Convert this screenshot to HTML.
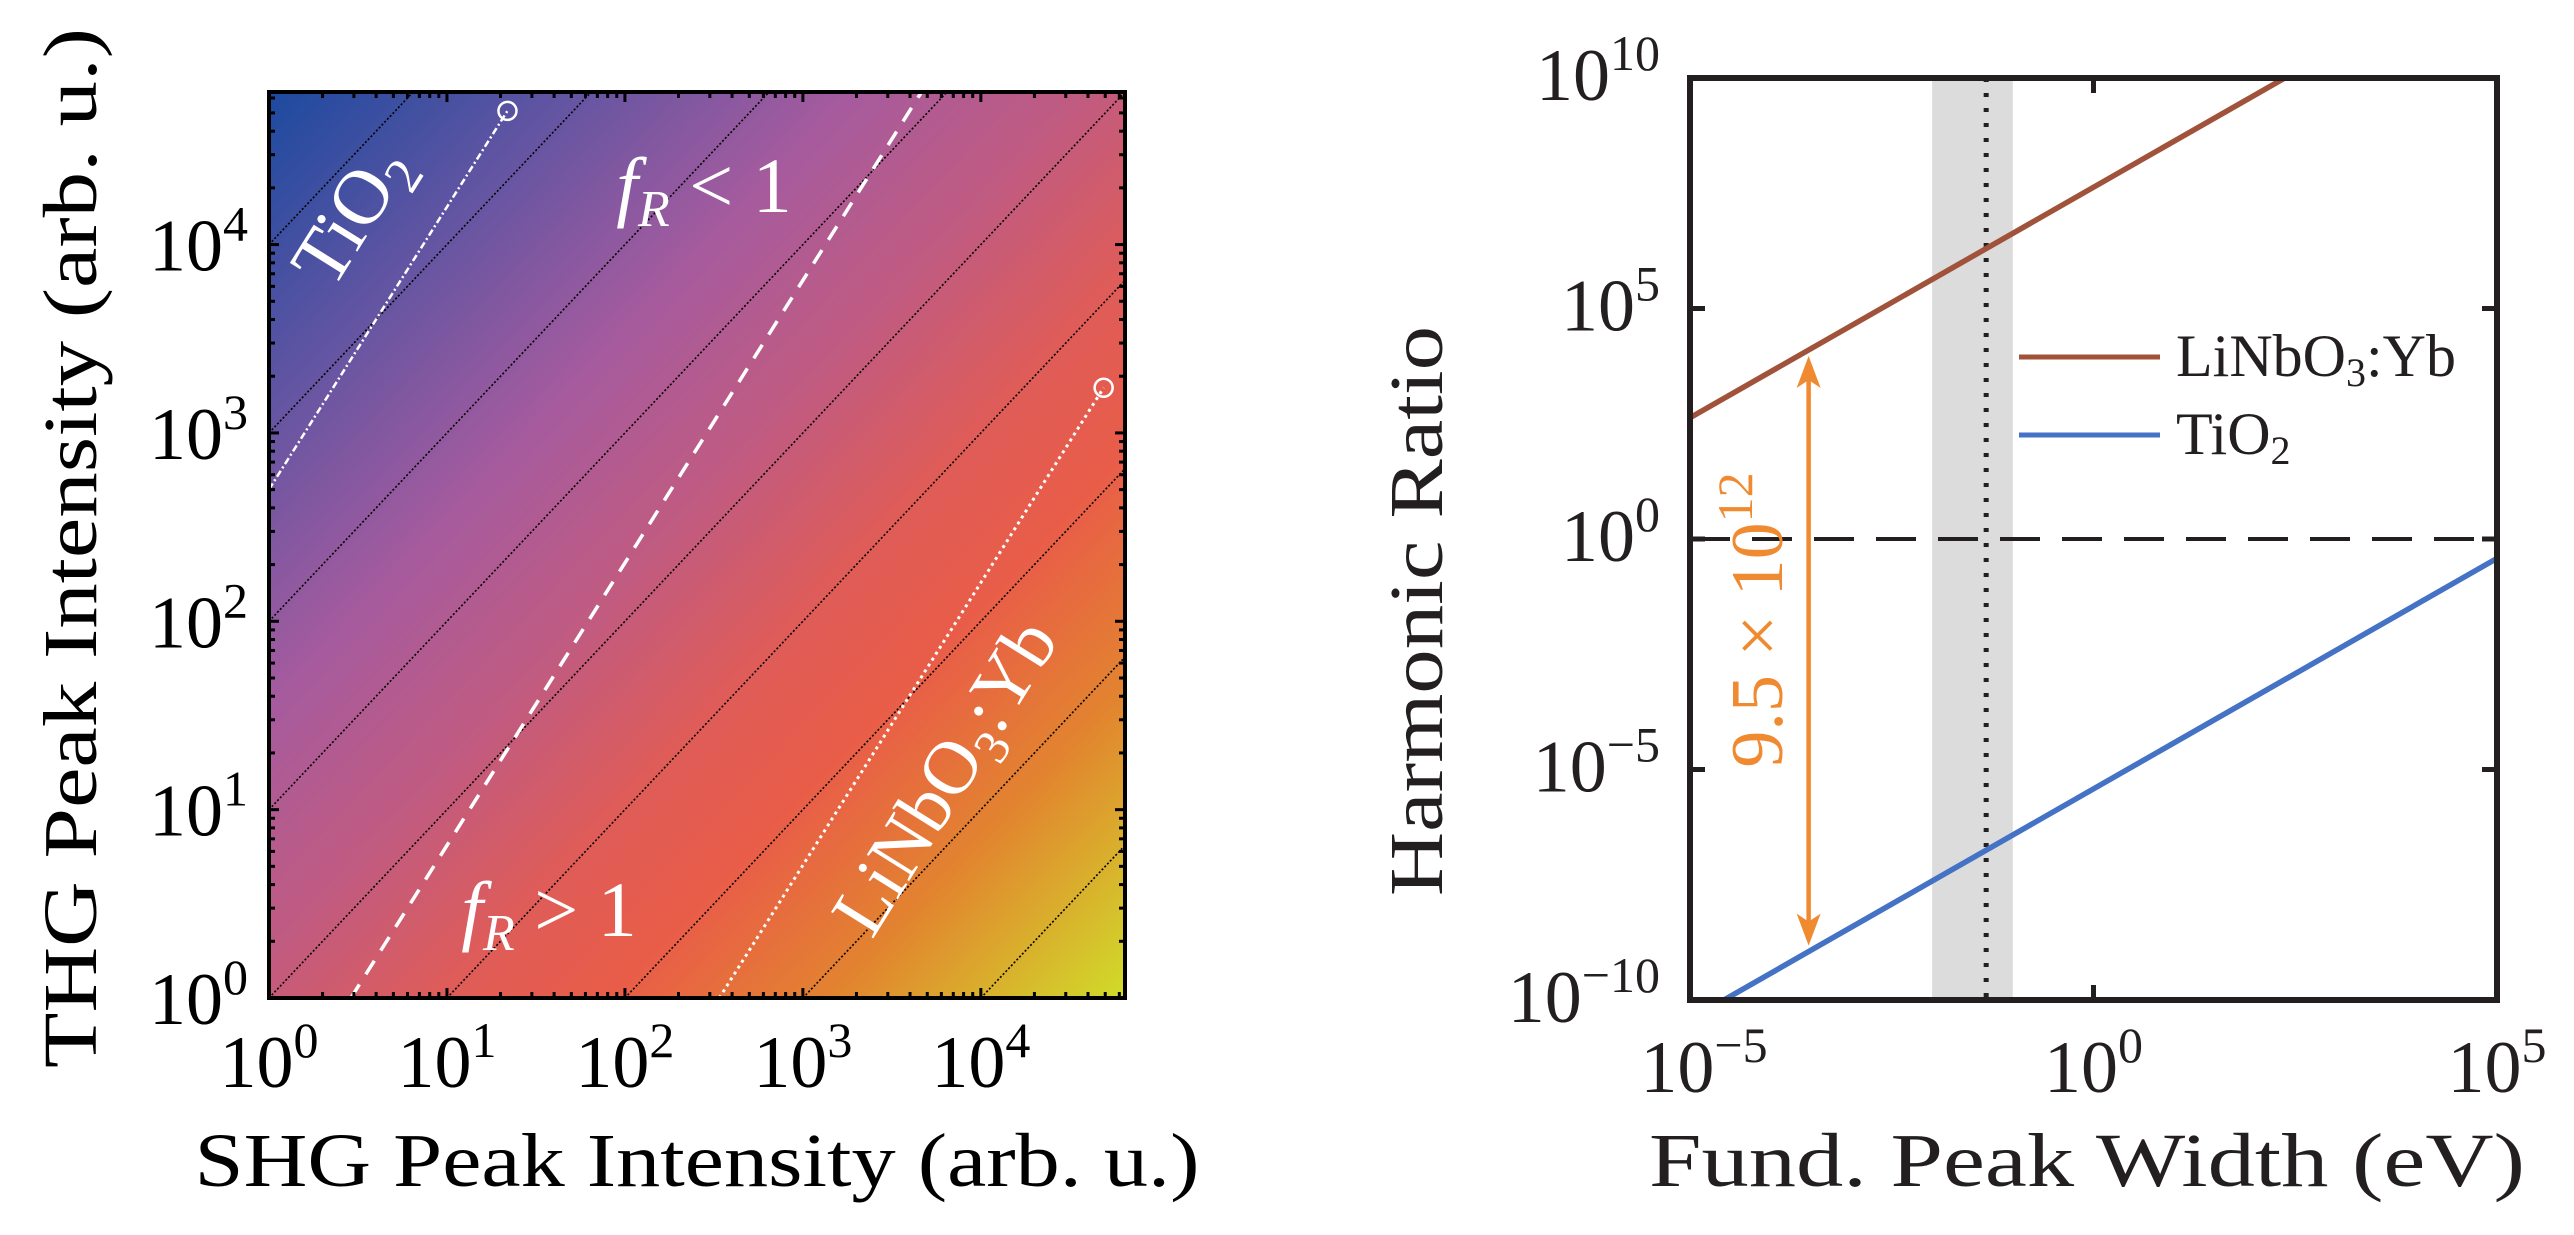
<!DOCTYPE html>
<html><head><meta charset="utf-8"><style>
html,body{margin:0;padding:0;background:#fff;}
svg{display:block;font-family:"Liberation Serif","DejaVu Serif",serif;}
</style></head><body>
<svg id="fig" width="2574" height="1235" viewBox="0 0 2574 1235" xmlns="http://www.w3.org/2000/svg">
<defs>
<clipPath id="clipL"><rect x="269" y="92" width="856" height="906"/></clipPath>
<clipPath id="clipR"><rect x="1690" y="78" width="807" height="922"/></clipPath>
</defs>
<g id="left"></g>
<g id="right"></g>
</svg>
<script>
// ---- Left panel data ----
const leftTicks = [0,1,2,3,4];
const leftTickLabels = ["0","1","2","3","4"];
const contourOffsets = [-4,-3,-2,-1,0,1,2,3,4];
// material lines: log10(THG) = slope*(log10(SHG) - x0), ends at xEnd
const tio2Line = {x0:-1.8, slope:1.5, xEnd:1.34};
const frLine = {x0:0.46, slope:1.5};
const linbLine = {x0:2.53, slope:1.5, xEnd:4.69};
// ---- Right panel data ----
const rightXTicks = [-5,0,5];
const rightYTicks = [-10,-5,0,5,10];
const brownIntercept = 7.63; // log ratio = intercept + log width
const blueIntercept = -5.42;
const bandRange = [-2.0,-1.0];
const dottedX = -1.33;
const arrowX = -3.53;
const arrowLabel = "9.5 × 10";
const arrowExp = "12";

const NS="http://www.w3.org/2000/svg";
function mk(tag,attrs,parent,text){const e=document.createElementNS(NS,tag);for(const k in attrs)e.setAttribute(k,attrs[k]);if(text!==undefined)e.textContent=text;parent.appendChild(e);return e;}

// ===== LEFT =====
const L=document.getElementById('left');
const LX0=269,LX1=1125,LY0=92,LY1=998,LMAX=4.81;
const lx=v=>LX0+(LX1-LX0)*v/LMAX;
const ly=v=>LY1-(LY1-LY0)*v/LMAX;
const defs=document.querySelector('defs');
const g=mk('linearGradient',{id:'cmap',gradientUnits:'userSpaceOnUse'},defs);
{
  const ux=(LX1-LX0)/LMAX, uy=(LY1-LY0)/LMAX;
  let dx=uy, dy=ux; const n=Math.hypot(dx,dy); dx/=n; dy/=n;
  const proj=(x,y)=>(x-LX0)*dx+(y-LY0)*dy;
  const t1=proj(LX1,LY1);
  g.setAttribute('x1',LX0);g.setAttribute('y1',LY0);
  g.setAttribute('x2',LX0+dx*t1);g.setAttribute('y2',LY0+dy*t1);
  const stops=[[0,'#1c4aa0'],[0.18,'#6455a2'],[0.34,'#a65b9e'],[0.48,'#c15b80'],[0.6,'#df5c58'],[0.7,'#e95d48'],[0.83,'#e2842f'],[1,'#d0dc2a']];
  stops.forEach(s=>mk('stop',{offset:s[0],'stop-color':s[1]},g));
}
const heat=mk('rect',{x:LX0,y:LY0,width:LX1-LX0,height:LY1-LY0,fill:'url(#cmap)'},L);


const cl=mk('g',{'clip-path':'url(#clipL)'},L);
contourOffsets.forEach(k=>{
  const x0=Math.max(0,k), x1=Math.min(LMAX,LMAX+k);
  const ln=mk('line',{x1:lx(x0),y1:ly(x0-k),x2:lx(x1),y2:ly(x1-k),stroke:'#000','stroke-width':1.6,'stroke-dasharray':'2 2'},cl);
  
  
});
function matLine(o,dash,w,name){
  let xa=Math.max(0,o.x0);
  let ya=o.slope*(xa-o.x0); if(ya<0){xa=o.x0;ya=0;}
  let xb=o.xEnd!==undefined?o.xEnd:o.x0+LMAX/o.slope;
  const yb=o.slope*(xb-o.x0);
  const ln=mk('line',{x1:lx(xa),y1:ly(ya),x2:lx(xb),y2:ly(yb),stroke:'#fff','stroke-width':w,'stroke-dasharray':dash},cl);
  
  
  return [lx(xb),ly(yb)];
}
const tEnd=matLine(tio2Line,'7 3 2 3',2.5,'tio2-line');
matLine(frLine,'16 12',3.5,'fr-equals-one-line');
const lEnd=matLine(linbLine,'3 4',3,'linbo3-line');
[[tEnd,'tio2-marker'],[lEnd,'linbo3-marker']].forEach(p=>{
  const c=mk('circle',{cx:p[0][0],cy:p[0][1],r:9,fill:'none',stroke:'#fff','stroke-width':2.5},L);
  
  
});
mk('rect',{x:LX0,y:LY0,width:LX1-LX0,height:LY1-LY0,fill:'none',stroke:'#000','stroke-width':4},L);
const tk=mk('g',{stroke:'#000','stroke-width':3},L);
for(let d=0;d<5;d++){for(let m=1;m<10;m++){const v=d+Math.log10(m);if(v>LMAX)continue;const len=m===1?10:6;
  mk('line',{x1:lx(v),y1:LY1,x2:lx(v),y2:LY1-len},tk);mk('line',{x1:lx(v),y1:LY0,x2:lx(v),y2:LY0+len},tk);
  mk('line',{x1:LX0,y1:ly(v),x2:LX0+len,y2:ly(v)},tk);mk('line',{x1:LX1,y1:ly(v),x2:LX1-len,y2:ly(v)},tk);}}
leftTicks.forEach((t,i)=>{
  const tx=mk('text',{x:lx(t),y:1087,'font-size':74,'text-anchor':'middle'},L);
  
  
  mk('tspan',{},tx,'10');mk('tspan',{'font-size':50,dy:-30},tx,leftTickLabels[i]);
  const ty=mk('text',{x:248,y:ly(t)+26,'font-size':74,'text-anchor':'end'},L);
  
  
  mk('tspan',{},ty,'10');mk('tspan',{'font-size':50,dy:-30},ty,leftTickLabels[i]);
});
</script>
<script>
(function(){
const L=document.getElementById('left');
function t(attrs,txt,name){const e=document.createElementNS("http://www.w3.org/2000/svg",'text');for(const k in attrs)e.setAttribute(k,attrs[k]);e.innerHTML=txt;L.appendChild(e);return e;}
t({x:697,y:1186,'font-size':76,'text-anchor':'middle',textLength:1005,lengthAdjust:'spacingAndGlyphs'},'SHG Peak Intensity (arb. u.)','x-axis-title');
t({x:0,y:0,'font-size':76,'text-anchor':'middle',textLength:1040,lengthAdjust:'spacingAndGlyphs',transform:'translate(96,548) rotate(-90)'},'THG Peak Intensity (arb. u.)','y-axis-title');
t({x:0,y:0,'font-size':78,fill:'#fff','text-anchor':'middle',transform:'translate(372,228) rotate(-58)'},'TiO<tspan font-size="52" dy="16">2</tspan>','tio2-label');
t({x:704,y:212,'font-size':78,fill:'#fff','text-anchor':'middle'},'<tspan font-style="italic">f</tspan><tspan font-size="52" font-style="italic" dy="14">R</tspan><tspan dy="-14"> &lt; 1</tspan>','fr-less-label');
t({x:549,y:936,'font-size':78,fill:'#fff','text-anchor':'middle'},'<tspan font-style="italic">f</tspan><tspan font-size="52" font-style="italic" dy="14">R</tspan><tspan dy="-14"> &gt; 1</tspan>','fr-greater-label');
t({x:0,y:0,'font-size':76,fill:'#fff','text-anchor':'middle',transform:'translate(966,790) rotate(-58)'},'LiNbO<tspan font-size="50" dy="16">3</tspan><tspan dy="-16">:Yb</tspan>','linbo3-label');
})();
</script>
<script>
(function(){
const NS="http://www.w3.org/2000/svg";
function mk(tag,attrs,parent,text){const e=document.createElementNS(NS,tag);for(const k in attrs)e.setAttribute(k,attrs[k]);if(text!==undefined)e.textContent=text;parent.appendChild(e);return e;}
const R=document.getElementById('right');
const X0=1690,X1=2497,Y0=78,Y1=1000;
const rx=v=>X0+(X1-X0)*(v+5)/10;
const ry=v=>Y1-(Y1-Y0)*(v+10)/20;
const cr=mk('g',{'clip-path':'url(#clipR)'},R);
const band=mk('rect',{x:rx(bandRange[0]),y:Y0,width:rx(bandRange[1])-rx(bandRange[0]),height:Y1-Y0,fill:'#dcdcdc'},cr);


const dl=mk('line',{x1:rx(dottedX),y1:Y0,x2:rx(dottedX),y2:Y1,stroke:'#231f20','stroke-width':5,'stroke-dasharray':'4 11'},cr);


const hl=mk('line',{x1:X0,y1:ry(0),x2:X1,y2:ry(0),stroke:'#231f20','stroke-width':4,'stroke-dasharray':'40 22'},cr);


const bl=mk('line',{x1:rx(-5),y1:ry(brownIntercept-5),x2:rx(5),y2:ry(brownIntercept+5),stroke:'#a0523a','stroke-width':5.5},cr);


const bu=mk('line',{x1:rx(-5),y1:ry(blueIntercept-5),x2:rx(5),y2:ry(blueIntercept+5),stroke:'#4472c4','stroke-width':5.5},cr);


const ax=rx(arrowX),ya=ry(brownIntercept+arrowX)+6,yb=ry(blueIntercept+arrowX)-6;
const ar=mk('g',{},R);
mk('line',{x1:ax,y1:ya+20,x2:ax,y2:yb-20,stroke:'#f08a30','stroke-width':4.5},ar);
mk('polygon',{points:`${ax},${ya} ${ax-12},${ya+32} ${ax},${ya+24} ${ax+12},${ya+32}`,fill:'#f08a30'},ar);
mk('polygon',{points:`${ax},${yb} ${ax-12},${yb-32} ${ax},${yb-24} ${ax+12},${yb-32}`,fill:'#f08a30'},ar);
const al=mk('text',{x:0,y:0,'font-size':74,fill:'#f08a30','text-anchor':'middle',transform:`translate(1782,620) rotate(-90)`},R);


mk('tspan',{},al,arrowLabel);mk('tspan',{'font-size':50,dy:-30},al,arrowExp);
mk('rect',{x:X0,y:Y0,width:X1-X0,height:Y1-Y0,fill:'none',stroke:'#231f20','stroke-width':6},R);
const tk=mk('g',{stroke:'#231f20','stroke-width':5},R);
rightXTicks.forEach(v=>{mk('line',{x1:rx(v),y1:Y1,x2:rx(v),y2:Y1-15},tk);mk('line',{x1:rx(v),y1:Y0,x2:rx(v),y2:Y0+15},tk);});
rightYTicks.forEach(v=>{mk('line',{x1:X0,y1:ry(v),x2:X0+15,y2:ry(v)},tk);mk('line',{x1:X1,y1:ry(v),x2:X1-15,y2:ry(v)},tk);});
rightXTicks.forEach(v=>{
  const t=mk('text',{x:rx(v)+(v<0?14:0),y:1092,'font-size':74,'text-anchor':'middle',fill:'#231f20'},R);
  
  
  mk('tspan',{},t,'10');mk('tspan',{'font-size':50,dy:-30},t,v<0?'−'+(-v):String(v));
});
rightYTicks.forEach(v=>{
  const t=mk('text',{x:1660,y:ry(v)+22,'font-size':74,'text-anchor':'end',fill:'#231f20'},R);
  
  
  mk('tspan',{},t,'10');mk('tspan',{'font-size':50,dy:-30},t,v<0?'−'+(-v):String(v));
});
const xt=mk('text',{x:2087,y:1186,'font-size':76,'text-anchor':'middle',textLength:876,lengthAdjust:'spacingAndGlyphs',fill:'#231f20'},R,'Fund.  Peak Width (eV)');


const yt=mk('text',{x:0,y:0,'font-size':76,'text-anchor':'middle',textLength:570,lengthAdjust:'spacingAndGlyphs',fill:'#231f20',transform:'translate(1442,611) rotate(-90)'},R,'Harmonic Ratio');


const lg=mk('g',{},R);


const e1=mk('g',{},lg);


mk('line',{x1:2019,y1:357,x2:2160,y2:357,stroke:'#a0523a','stroke-width':5},e1);
const t1=mk('text',{x:2176,y:376,'font-size':60,fill:'#231f20'},e1);
mk('tspan',{},t1,'LiNbO');mk('tspan',{'font-size':40,dy:10},t1,'3');mk('tspan',{dy:-10},t1,':Yb');
const e2=mk('g',{},lg);


mk('line',{x1:2019,y1:435,x2:2160,y2:435,stroke:'#4472c4','stroke-width':5},e2);
const t2=mk('text',{x:2176,y:454,'font-size':60,fill:'#231f20'},e2);
mk('tspan',{},t2,'TiO');mk('tspan',{'font-size':40,dy:10},t2,'2');
})();
</script>
</body></html>
